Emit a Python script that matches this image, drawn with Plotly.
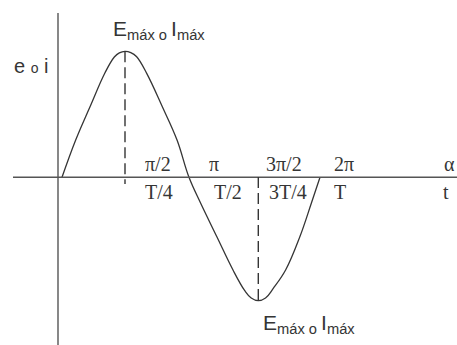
import plotly.graph_objects as go

# Wave traced as (angle in degrees, amplitude as a fraction of the peak)
angle_deg = [0, 19.1, 39.1, 60, 73, 80, 87.9, 96, 104.2, 118.2, 140, 160.5, 177.2,
             193.5, 215.9, 238.6, 255, 264, 273.9, 284, 295, 312, 332, 348, 360]
amplitude = [0, 0.296, 0.56, 0.83, 0.955, 0.988, 1.0, 0.99, 0.957, 0.825, 0.56, 0.296, 0,
             -0.206, -0.47, -0.736, -0.9, -0.958, -0.979, -0.958, -0.88, -0.736, -0.47, -0.204, 0]

# Peak and trough of the wave
peak_angle, peak_value = 87.9, 1.0
trough_angle, trough_value = 273.9, -0.979

# Quarter-period marks along the horizontal axis
tick_angles = [90, 180, 270, 360]
angle_labels = ["π/2", "π", "3π/2", "2π"]
time_labels = ["T/4", "T/2", "3T/4", "T"]

peak_label = "E<sub>máx o </sub>I<sub>máx</sub>"
y_title = "e <span style='font-size:14px'>o</span> i"
x_angle_name = "α"
x_time_name = "t"

# pixel geometry of the drawing
W, H = 457, 345
X0_PX, DEG_PX = 62.0, 0.7167      # x pixel of 0 deg, pixels per degree
Y0_PX, AMP_PX = 177.3, 126.0      # y pixel of the axis, pixels per unit amplitude

x_rng = [(0 - X0_PX) / DEG_PX, (W - X0_PX) / DEG_PX]
y_rng = [(Y0_PX - H) / AMP_PX, Y0_PX / AMP_PX]


def dx(px):
    return (px - X0_PX) / DEG_PX


def dy(py):
    return (Y0_PX - py) / AMP_PX


INK = "#353535"
AXIS = "#555555"
SANS = "Liberation Sans, Arial, sans-serif"
SERIF = "Liberation Serif, Times New Roman, serif"

fig = go.Figure()
fig.add_trace(go.Scatter(
    x=angle_deg, y=amplitude, mode="lines",
    line=dict(color=INK, width=1.3, shape="spline", smoothing=1.1),
    hoverinfo="skip", showlegend=False,
))

shapes = [
    # horizontal axis
    dict(type="line", xref="x", yref="y", x0=dx(13), x1=x_rng[1], y0=0, y1=0,
         line=dict(color=AXIS, width=1.4)),
    # vertical axis
    dict(type="line", xref="x", yref="y", x0=dx(58), x1=dx(58), y0=dy(13), y1=y_rng[0],
         line=dict(color=AXIS, width=1.4)),
    # dashed drop from the peak
    dict(type="line", xref="x", yref="y", x0=peak_angle, x1=peak_angle,
         y0=peak_value, y1=dy(184),
         line=dict(color=INK, width=1.4, dash="11px,5px")),
    # dashed rise to the trough
    dict(type="line", xref="x", yref="y", x0=trough_angle, x1=trough_angle,
         y0=dy(177), y1=trough_value,
         line=dict(color=INK, width=1.4, dash="11px,5px")),
]

annotations = []
top_shift = [16, 16, 8, 12]
bot_shift = [16, 21, 11, 12]
for a, lab, s in zip(tick_angles, angle_labels, top_shift):
    annotations.append(dict(x=a, y=0, xref="x", yref="y", text=lab, showarrow=False,
                            xanchor="left", yanchor="bottom", xshift=s, yshift=0,
                            font=dict(family=SERIF, size=20, color=INK)))
for a, lab, s in zip(tick_angles, time_labels, bot_shift):
    annotations.append(dict(x=a, y=0, xref="x", yref="y", text=lab, showarrow=False,
                            xanchor="left", yanchor="top", xshift=s, yshift=-2,
                            font=dict(family=SERIF, size=20, color=INK)))

annotations += [
    dict(x=dx(457), y=0, xref="x", yref="y", text=x_angle_name, showarrow=False,
         xanchor="right", yanchor="bottom", font=dict(family=SERIF, size=20, color=INK)),
    dict(x=dx(451), y=0, xref="x", yref="y", text=x_time_name, showarrow=False,
         xanchor="right", yanchor="top", yshift=-2,
         font=dict(family=SERIF, size=20, color=INK)),
    dict(x=dx(12), y=dy(66), xref="x", yref="y", text=y_title, showarrow=False,
         xanchor="left", yanchor="middle", font=dict(family=SANS, size=20, color=INK)),
    dict(x=dx(111), y=dy(30), xref="x", yref="y", text=peak_label, showarrow=False,
         xanchor="left", yanchor="middle", font=dict(family=SANS, size=21, color=INK)),
    dict(x=dx(261), y=dy(324), xref="x", yref="y", text=peak_label, showarrow=False,
         xanchor="left", yanchor="middle", font=dict(family=SANS, size=21, color=INK)),
]

fig.update_layout(
    width=W, height=H,
    margin=dict(l=0, r=0, t=0, b=0),
    paper_bgcolor="white", plot_bgcolor="white",
    xaxis=dict(range=x_rng, visible=False, fixedrange=True),
    yaxis=dict(range=y_rng, visible=False, fixedrange=True),
    shapes=shapes, annotations=annotations,
)

fig.write_html("out.html")
